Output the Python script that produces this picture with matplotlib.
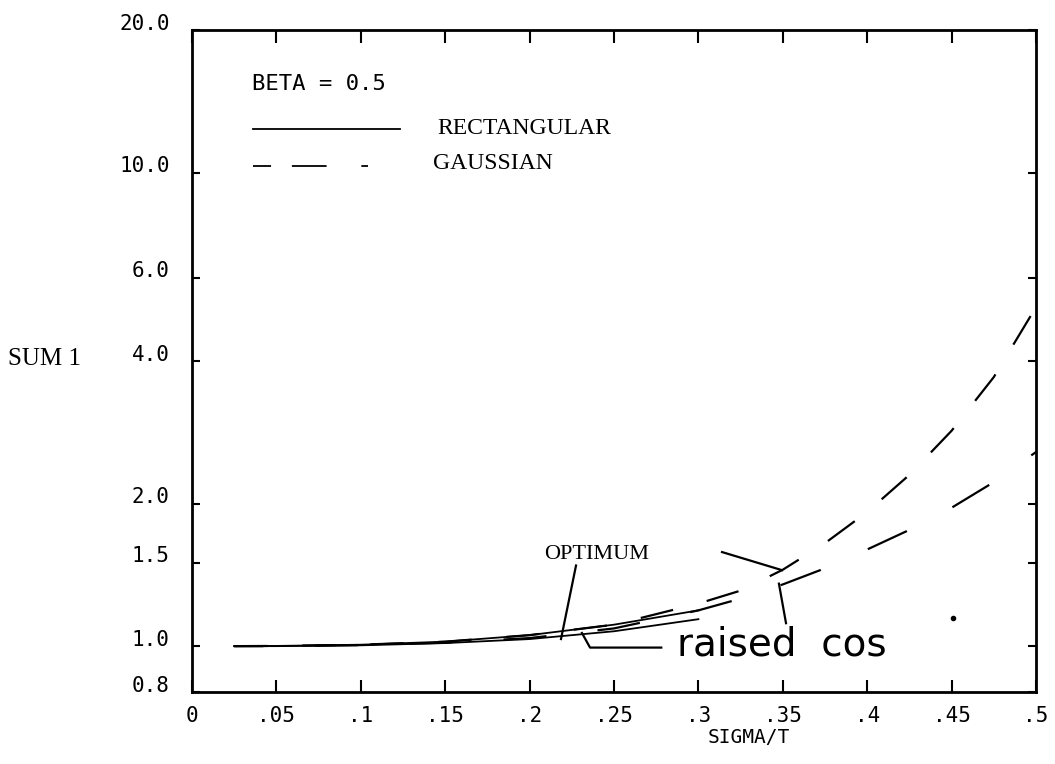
import matplotlib
matplotlib.use("Agg")
import matplotlib.pyplot as plt
from matplotlib.transforms import ScaledTranslation

# values
sigma_rect = [0.025, 0.05, 0.1, 0.15, 0.2, 0.25, 0.30]
rect_opt = [1.0, 1.0, 1.004, 1.015, 1.035, 1.075, 1.14]
rect_rc = [1.0, 1.001, 1.007, 1.022, 1.055, 1.11, 1.19]

sigma_gauss = [0.025, 0.05, 0.1, 0.15, 0.2, 0.25, 0.3, 0.325, 0.35,
               0.375, 0.4, 0.425, 0.45, 0.475, 0.5]
gauss_opt = [1.0, 1.001, 1.007, 1.022, 1.055, 1.11, 1.23, 1.31, 1.45,
             1.65, 1.92, 2.3, 2.85, 3.7, 5.2]
gauss_rc = [1.0, 1.0, 1.005, 1.017, 1.04, 1.09, 1.19, 1.26, 1.35,
            1.46, 1.60, 1.76, 1.96, 2.22, 2.57]

xticks = [0, .05, .1, .15, .2, .25, .3, .35, .4, .45, .5]
xtick_labels = ["0", ".05", ".1", ".15", ".2", ".25", ".3", ".35", ".4", ".45", ".5"]
yticks = [0.8, 1.0, 1.5, 2.0, 4.0, 6.0, 10.0, 20.0]
ytick_labels = ["0.8", "1.0", "1.5", "2.0", "4.0", "6.0", "10.0", "20.0"]

# leader lines (data coords)
opt_lead_x = [0.2275, 0.2186]
opt_lead_y = [1.48, 1.035]
opt_lead2_x = [0.314, 0.3495]
opt_lead2_y = [1.58, 1.447]
rc_lead_x = [0.2310, 0.2358, 0.2780]
rc_lead_y = [1.066, 0.993, 0.993]
rc_lead2_x = [0.3519, 0.3477]
rc_lead2_y = [1.118, 1.355]
speck_x = [0.451]
speck_y = [1.146]

plt.rcParams['lines.scale_dashes'] = False
MONO = "DejaVu Sans Mono"
SERIF = "Liberation Serif"

fig = plt.figure(figsize=(10.55, 7.64), dpi=100)
ax = fig.add_axes([0.182, 0.0942, 0.8, 0.8665])
ax.set_yscale('log')

lw = 1.3
ax.plot(sigma_rect, rect_opt, 'k-', lw=lw)
ax.plot(sigma_rect, rect_rc, 'k-', lw=lw)
ax.plot(sigma_gauss, gauss_opt, 'k', lw=lw+0.3, linestyle=(0, (24, 25)))
ax.plot(sigma_gauss, gauss_rc, 'k', lw=lw+0.3, linestyle=(10, (31, 37)))
ax.plot(speck_x, speck_y, 'ko', ms=3)

# leaders
ax.plot(opt_lead_x, opt_lead_y, 'k-', lw=1.6)
ax.plot(opt_lead2_x, opt_lead2_y, 'k-', lw=1.6)
ax.plot(rc_lead_x, rc_lead_y, 'k-', lw=1.6)
ax.plot(rc_lead2_x, rc_lead2_y, 'k-', lw=1.6)

ax.text(0.2395, 1.49, "OPTIMUM", family=SERIF, fontsize=16, ha='center', va='bottom')
ax.text(0.2873, 0.955, "raised  cos", family="DejaVu Sans", fontsize=28,
        ha='left', va='baseline')

ax.set_xlim(0, 0.5)
ax.set_ylim(0.8, 20.0)
ax.set_xticks(xticks)
ax.set_xticklabels(xtick_labels, family=MONO, fontsize=15)
ax.set_yticks(yticks)
ax.set_yticklabels(ytick_labels, family=MONO, fontsize=15)
ax.yaxis.set_minor_locator(plt.NullLocator())
ax.tick_params(axis='x', direction='in', length=9, width=1.5, top=True, pad=10)
ax.tick_params(axis='y', direction='in', length=6, width=1.5, right=True, pad=16)
for lab in ax.get_yticklabels():
    lab.set_transform(lab.get_transform() + ScaledTranslation(0, 6/72, fig.dpi_scale_trans))
for sp in ax.spines.values():
    sp.set_linewidth(2)

# legend drawn by hand like the plotter did
ax.text(0.071, 0.918, "BETA = 0.5", transform=ax.transAxes, family=MONO,
        fontsize=16, va='center', ha='left')
ax.plot([0.0723, 0.2465], [0.851, 0.851], 'k-', lw=1.3, transform=ax.transAxes)
ax.text(0.291, 0.851, "RECTANGULAR", transform=ax.transAxes, family=SERIF,
        fontsize=17, va='center', ha='left')
ax.plot([0.0723, 0.2085], [0.795, 0.795], 'k', lw=1.3, transform=ax.transAxes,
        linestyle=(0, (13, 15, 25, 25)))
ax.text(0.286, 0.798, "GAUSSIAN", transform=ax.transAxes, family=SERIF,
        fontsize=17, va='center', ha='left')

ax.text(0.66, -0.068, "SIGMA/T", transform=ax.transAxes, family=MONO,
        fontsize=14, ha='center', va='center')
ax.text(-0.218, 0.503, "SUM 1", transform=ax.transAxes, family=SERIF,
        fontsize=18, ha='left', va='center')

fig.savefig("out.png", dpi=100)
